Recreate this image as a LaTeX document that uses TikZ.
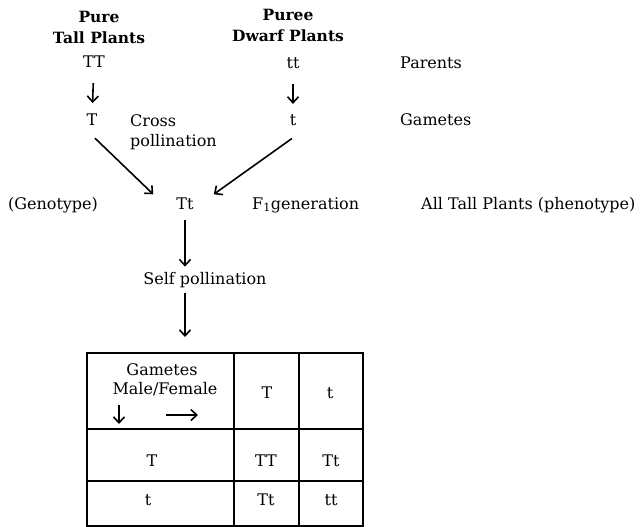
\documentclass[tikz,border=0pt]{standalone}
\usepackage{fontspec}
\setmainfont{DejaVu Serif}
\usetikzlibrary{arrows.meta}
\begin{document}
\begin{tikzpicture}[x=1pt,y=-1pt,
  txt/.style={inner sep=0pt, anchor=base, font=\fontsize{16}{19}\selectfont},
  txtw/.style={txt, anchor=base west},
  hd/.style={inner sep=0pt, align=center, font=\fontsize{15.5}{21}\selectfont\bfseries},
  arr/.style={line width=1.6pt, -{Straight Barb[length=6pt,width=11pt,line width=1.6pt]}},
  gridline/.style={line width=1.8pt}]
\useasboundingbox (0,0) rectangle (640,527);
% headings
\node[hd] (ptall) at (99,27) {Pure\\Tall Plants};
\node[hd] (pdwarf) at (288,25) {Puree\\Dwarf Plants};
% parents
\node[txt] (TT) at (94,68) {TT};
\node[txt] (tt) at (293,69) {tt};
\node[txtw] (parents) at (400,69) {Parents};
% gametes
\node[txt] (T) at (92,125) {T};
\node[txt] (t) at (293,125) {t};
\node[txtw] (cross) at (130,126) {Cross};
\node[txtw] (poll) at (130,146) {pollination};
\node[txtw] (gam) at (400,125) {Gametes};
\draw[arr, shorten <=15pt, shorten >=10pt] (TT) -- (T);
\draw[arr, shorten <=15pt, shorten >=10pt] (tt) -- (t);
% F1
\node[txt] (geno) at (53,209) {(Genotype)};
\node[txt] (Tt) at (185,209) {Tt};
\node[txtw] (f1) at (252,209) {F\textsubscript{1}generation};
\node[txtw] (all) at (421,209) {All Tall Plants (phenotype)};
\draw[arr] ([shift={(3,13)}]T.south) -- ([shift={(-23,-9)}]Tt.west);
\draw[arr] ([shift={(-1,13)}]t.south) -- ([shift={(20,-9)}]Tt.east);
% self pollination
\node[txt] (self) at (205,284) {Self pollination};
\coordinate (tabtop) at (185,353);
\draw[arr, shorten <=11pt, shorten >=5pt] (Tt.south) -- (Tt.south |- self.north);
\draw[arr, shorten <=5pt, shorten >=16pt] (Tt.south |- self.south) -- (tabtop);
% table
\draw[gridline] (87,353) rectangle (363,526);
\draw[gridline] (234,353) -- (234,526);
\draw[gridline] (299,353) -- (299,526);
\draw[gridline] (87,429) -- (363,429);
\draw[gridline] (87,481) -- (363,481);
\node[txt] (cg) at (162,375) {Gametes};
\node[txt] (cmf) at (165,394) {Male/Female};
\coordinate (da1) at (119,405);
\coordinate (da2) at (119,424);
\coordinate (ra1) at (166,415);
\coordinate (ra2) at (198,415);
\draw[arr] (da1) -- (da2);
\draw[arr] (ra1) -- (ra2);
\node[txt] (hT) at (267,398) {T};
\node[txt] (ht) at (330,398) {t};
\node[txt] (rT) at (152,466) {T};
\node[txt] (TT2) at (266,466) {TT};
\node[txt] (Tt2) at (331,466) {Tt};
\node[txt] (rt) at (148,505) {t};
\node[txt] (Tt3) at (266,505) {Tt};
\node[txt] (tt3) at (331,505) {tt};
\end{tikzpicture}
\end{document}
